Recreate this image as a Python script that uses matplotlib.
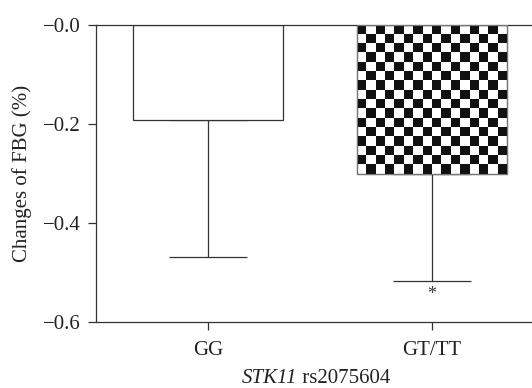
import numpy as np
import matplotlib
matplotlib.use("Agg")
import matplotlib.pyplot as plt
from matplotlib.patches import Rectangle
from matplotlib.collections import PatchCollection

categories = ["GG", "GT/TT"]
means = [-0.193, -0.301]
lower_err = [0.275, 0.216]
yticks = [0.0, -0.2, -0.4, -0.6]
ytick_labels = ["\u22120.0", "\u22120.2", "\u22120.4", "\u22120.6"]
sig_marks = ["", "*"]
xlabel_gene = "STK11"
xlabel_snp = " rs2075604"

plt.rcParams["font.family"] = ["Liberation Serif", "DejaVu Serif"]

fig = plt.figure(figsize=(5.32, 3.88), dpi=100)
ax = fig.add_axes([96/532, (388-322)/388, 448/532, (322-24.5)/388])

ec = "#333333"
fs = 15
x = np.arange(len(categories))
bars = ax.bar(x, means, width=0.67, color="white", edgecolor=ec, linewidth=0.9, zorder=2)
ax.errorbar(x, means, yerr=[lower_err, [0, 0]], fmt="none", ecolor=ec,
            elinewidth=0.9, capsize=28, capthick=0.9, zorder=1)

# checkerboard fill for second bar (black cells on the white bar)
b = bars[1]
x0, y0 = b.get_x(), b.get_y()
w, h = b.get_width(), b.get_height()
n = 16
cw, ch = w / n, h / n
cells = [Rectangle((x0 + i * cw, y0 + j * ch), cw, ch)
         for i in range(n) for j in range(n) if (i + j) % 2 == 0]
pc = PatchCollection(cells, facecolor="#111111", edgecolor="none", linewidth=0, zorder=2.5)
ax.add_collection(pc)
pc.set_clip_path(b)
ax.bar([x[1]], [means[1]], width=0.67, fill=False, edgecolor="#777777", linewidth=0.8, zorder=3)

for xi, m, e, s in zip(x, means, lower_err, sig_marks):
    if s:
        ax.annotate(s, (xi, m - e), xytext=(0, -4), textcoords="offset points",
                    ha="center", va="top", fontsize=13, color=ec)

ax.set_xlim(-0.5, 1.5)
ax.set_ylim(-0.6, 0.0)
ax.set_yticks(yticks)
ax.set_yticklabels(ytick_labels)
ax.set_xticks(x)
ax.set_xticklabels(categories)
ax.tick_params(axis="both", direction="out", length=6, width=0.9, color=ec,
               labelsize=fs, labelcolor="#222222")
ax.tick_params(axis="y", pad=5)
ax.tick_params(axis="x", pad=8)
for sp in ax.spines.values():
    sp.set_color(ec)
    sp.set_linewidth(0.9)
ax.set_ylabel("Changes of FBG (%)", fontsize=fs, color="#222222", labelpad=8)

# x label: italic gene name + regular SNP id
yb = 1 - 383/388
t1 = fig.text(0.5, yb, xlabel_gene, fontsize=fs, fontstyle="italic",
              ha="right", va="baseline", color="#222222")
t2 = fig.text(0.5, yb, xlabel_snp, fontsize=fs, ha="left", va="baseline",
              color="#222222")
fig.canvas.draw()
r = fig.canvas.get_renderer()
w1 = t1.get_window_extent(r).width
w2 = t2.get_window_extent(r).width
center = 316 / 532
shift = (w1 - w2) / 2 / fig.bbox.width
t1.set_x(center + shift)
t2.set_x(center + shift)

fig.savefig("out.png", dpi=100)
